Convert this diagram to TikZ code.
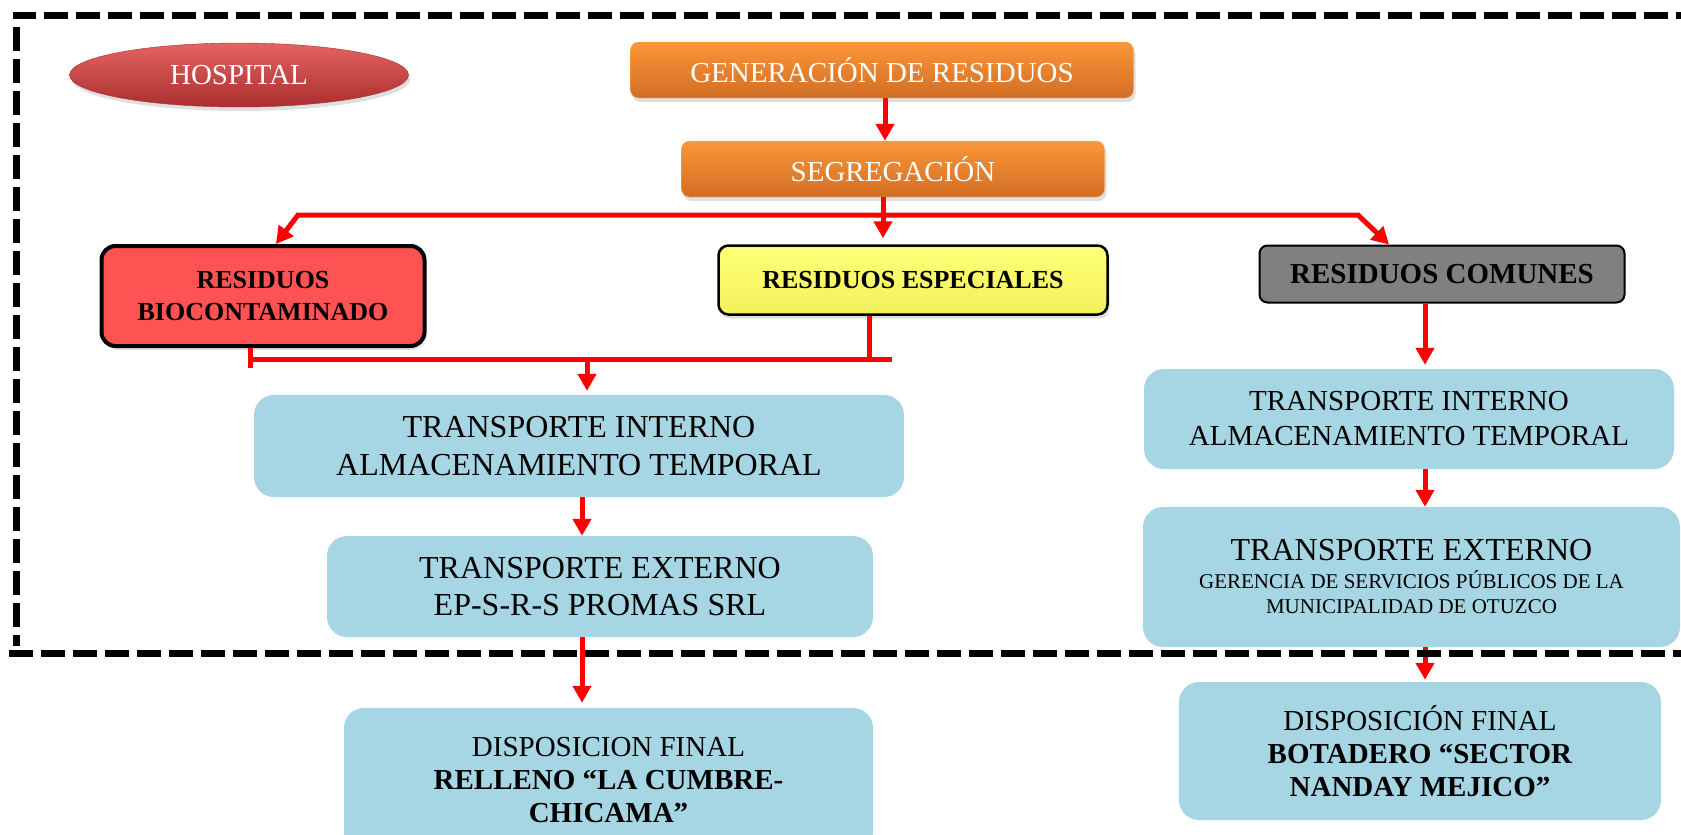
\documentclass[tikz,border=0pt]{standalone}
\usepackage{fontspec}
\setmainfont{Liberation Serif}
\usepackage{tikz}
\usetikzlibrary{positioning,arrows.meta,shapes.geometric,shadows}

\definecolor{orangetop}{RGB}{251,150,56}
\definecolor{orangebot}{RGB}{210,110,36}
\definecolor{hosptop}{RGB}{228,100,98}
\definecolor{hospbot}{RGB}{170,46,46}
\definecolor{biored}{RGB}{255,83,83}
\definecolor{espyellow}{RGB}{255,255,120}
\definecolor{espyellowdark}{RGB}{242,242,90}
\definecolor{comgray}{RGB}{128,128,128}
\definecolor{stepblue}{RGB}{166,213,227}

\newcommand{\smalltxt}{\fontsize{21}{25}\selectfont}

\begin{document}
\begin{tikzpicture}[
    x=1pt, y=-1pt,
    >={Triangle[length=17pt,width=18pt]},
    box/.style={
      rounded corners=8pt,
      align=center,
      inner sep=0pt,
      font=\fontsize{29}{34}\selectfont
    },
    procbox/.style={
      box,
      draw=orangetop!70!white,
      top color=orangetop,
      bottom color=orangebot,
      text=white,
      drop shadow={opacity=0.25, shadow xshift=2pt, shadow yshift=-4pt}
    },
    wastebox/.style={
      box,
      draw=black,
      font=\fontsize{26}{32}\selectfont\bfseries
    },
    stepbox/.style={
      box,
      fill=stepblue,
      rounded corners=20pt
    },
    flow/.style={draw=red, line width=5pt, ->},
    joint/.style={draw=red, line width=5pt},
    frame/.style={draw=black, line width=7pt, dash pattern=on 24pt off 8pt}
]
  \useasboundingbox (0,0) rectangle (1681,835);

  % Hospital label
  \node[ellipse, minimum width=339pt, minimum height=64pt, inner sep=0pt,
        draw=hospbot, top color=hosptop, bottom color=hospbot, text=white,
        font=\fontsize{29}{34}\selectfont,
        drop shadow={opacity=0.25, shadow xshift=2pt, shadow yshift=-4pt}]
        (hosp) at (239,75) {HOSPITAL};

  % Top process boxes
  \node[procbox, minimum width=503pt, minimum height=56pt] (gen) at (882,70) {GENERACIÓN DE RESIDUOS};
  \node[procbox, minimum width=423pt, minimum height=56pt] (seg) at (893,169) {SEGREGACIÓN};

  % Waste types
  \node[wastebox, fill=biored, line width=4pt, rounded corners=14pt,
        minimum width=323pt, minimum height=100pt,
        drop shadow={opacity=0.2, shadow xshift=2pt, shadow yshift=-4pt}]
        (bio) at (263,296) {RESIDUOS\\BIOCONTAMINADO};
  \node[wastebox, top color=espyellow, bottom color=espyellowdark, line width=2.5pt, rounded corners=10pt,
        minimum width=389pt, minimum height=69pt,
        drop shadow={opacity=0.25, shadow xshift=2pt, shadow yshift=-4pt}]
        (esp) at (913,280) {RESIDUOS ESPECIALES};
  \node[wastebox, fill=comgray, line width=2pt, font=\fontsize{29}{34}\selectfont\bfseries,
        minimum width=365pt, minimum height=57pt]
        (com) at (1442,274) {RESIDUOS COMUNES};

  % Left branch
  \node[stepbox, minimum width=650pt, minimum height=102pt, font=\fontsize{32}{38}\selectfont]
        (tiL) at (579,446) {TRANSPORTE INTERNO\\ALMACENAMIENTO TEMPORAL};
  \node[stepbox, minimum width=546pt, minimum height=101pt, font=\fontsize{32}{37}\selectfont]
        (teL) at (600,586.5) {TRANSPORTE EXTERNO\\EP-S-R-S PROMAS SRL};
  \node[stepbox, minimum width=529pt, minimum height=144pt, font=\fontsize{29}{33}\selectfont]
        (dfL) at (608.5,780) {DISPOSICION FINAL\\\textbf{RELLENO “LA CUMBRE-}\\\textbf{CHICAMA”}};

  % Right branch
  \node[stepbox, minimum width=530pt, minimum height=100pt, font=\fontsize{29}{35}\selectfont]
        (tiR) at (1409,419) {TRANSPORTE INTERNO\\ALMACENAMIENTO TEMPORAL};
  \node[stepbox, minimum width=537pt, minimum height=140pt, font=\fontsize{32}{37}\selectfont]
        (teR) at (1411.5,577) {TRANSPORTE EXTERNO\\[-9pt]\smalltxt GERENCIA DE SERVICIOS PÚBLICOS DE LA\\[-12pt]\smalltxt MUNICIPALIDAD DE OTUZCO};
  \node[stepbox, minimum width=482pt, minimum height=138pt, font=\fontsize{29}{33}\selectfont]
        (dfR) at (1420,751) {DISPOSICIÓN FINAL\\\textbf{BOTADERO “SECTOR}\\\textbf{NANDAY MEJICO”}};

  % Split after segregation
  \coordinate (splitL) at (298,215);
  \coordinate (splitR) at (1358,215);
  \draw[flow] ([xshift=3pt]gen.south) -- ([xshift=3pt]gen.south |- seg.north);
  \draw[flow, <->] ([xshift=13pt]bio.north) -- (splitL) -- (splitR) -- ([xshift=-53pt]com.north);
  \draw[flow, shorten >=6pt] ([xshift=-10pt]seg.south) -- ([xshift=-10pt]seg.south |- esp.north);

  % Merge of biocontaminados and especiales
  \coordinate (mergeL) at (250,359);
  \coordinate (mergeR) at (892,359);
  \coordinate (mergeM) at (587,359);
  \draw[joint] (bio.south -| mergeL) -- ++(0,20);
  \draw[joint] ([xshift=-44pt]esp.south) -- ([xshift=-44pt]esp.south |- mergeR);
  \draw[joint] (mergeL) -- (mergeR);
  \draw[flow, shorten >=4pt] (mergeM) -- (mergeM |- tiL.north);

  % Column arrows
  \coordinate (colL) at (582,0);
  \coordinate (colR) at (1425,0);
  \draw[flow] (tiL.south -| colL) -- (teL.north -| colL);
  \draw[flow, shorten >=5pt] (teL.south -| colL) -- (dfL.north -| colL);
  \draw[flow, shorten >=4pt] (com.south -| colR) -- (tiR.north -| colR);
  \draw[flow] (tiR.south -| colR) -- (teR.north -| colR);
  \draw[flow, shorten >=2pt] (teR.south -| colR) -- (dfR.north -| colR);

  % Hospital boundary
  \draw[frame] (1700,15) -- (16,15) -- (16,646);
  \draw[frame] (9,653) -- (1700,653);
\end{tikzpicture}
\end{document}
